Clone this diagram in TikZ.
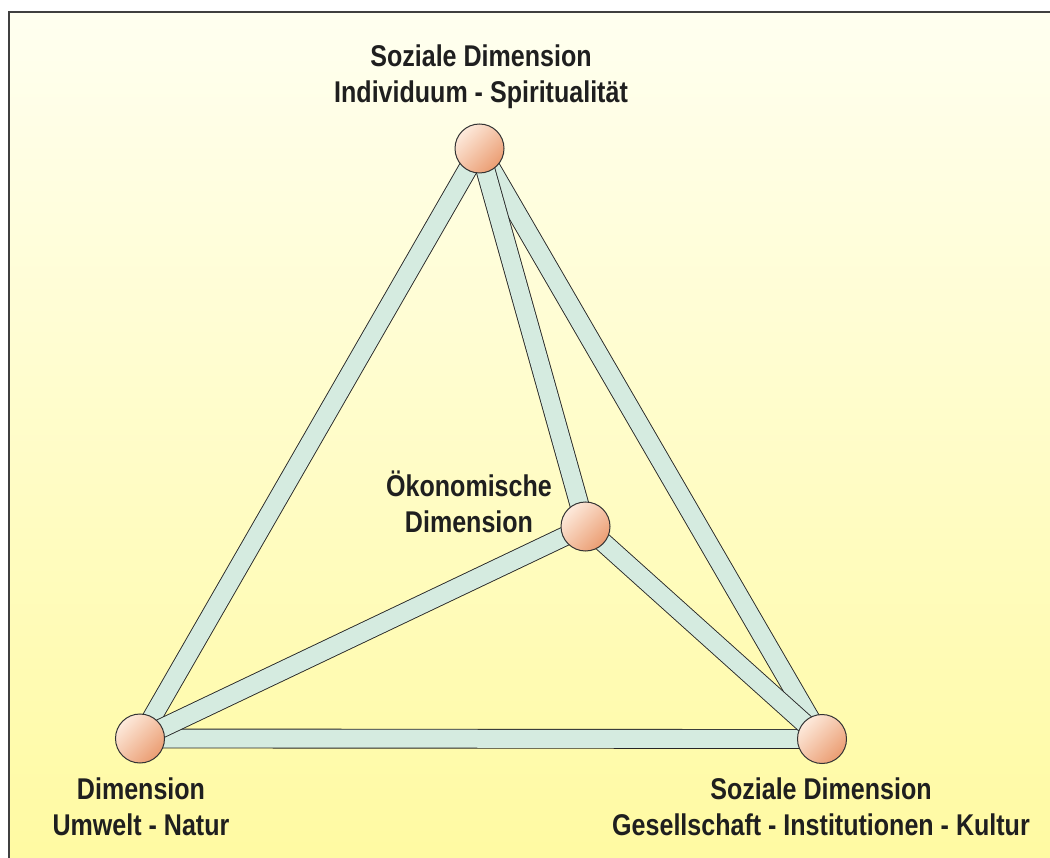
\documentclass[tikz,border=0pt]{standalone}
\usepackage{fontspec}
\setmainfont{Liberation Sans}[FakeStretch=0.835]
\definecolor{barc}{HTML}{D5EBE0}
\definecolor{ballL}{HTML}{FDEADC}
\definecolor{ballD}{HTML}{EB9D72}
\definecolor{bgtop}{HTML}{FFFFF0}
\definecolor{bgbot}{HTML}{FFFAA2}
\begin{document}
\begin{tikzpicture}[x=1pt,y=-1pt,
  ball/.style={circle, draw=black!80, line width=1pt, minimum size=49pt, inner sep=0pt,
    top color=ballL, bottom color=ballD, shading angle=45},
  bar/.style={draw=black!85, line width=0.9pt, double=barc, double distance=18pt},
  lbl/.style={font=\bfseries\fontsize{30}{36}\selectfont, align=center, text=black!88, inner sep=0pt}]
\useasboundingbox (0,0) rectangle (1050,858);
\shade[top color=bgtop, bottom color=bgbot] (9,12) rectangle (1050,858);
\draw[black!75, line width=1.5pt] (9,858) -- (9,12) -- (1050,12);
% centres
\coordinate (t) at (479.5,148.5);
\coordinate (m) at (585.5,526.5);
\coordinate (l) at (140,738.5);
\coordinate (r) at (822,739);
% bars
\draw[bar] (l) -- (r);
\draw[bar] (t) -- (l);
\draw[bar] (l) -- (m);
\draw[bar] (t) -- (r);
\draw[bar] (m) -- (r);
\draw[bar] (t) -- (m);
% balls
\node[ball] (bt) at (t) {};
\node[ball] (bm) at (m) {};
\node[ball] (bl) at (l) {};
\node[ball] (br) at (r) {};
% labels
\node[lbl] (lt) at (481,77) {Soziale Dimension\\Individuum - Spiritualität};
\node[lbl] (lm) at (469,502) {Ökonomische\\Dimension};
\node[lbl] (ll) at (141,807) {Dimension\\Umwelt - Natur};
\node[lbl] (lr) at (821,807) {Soziale Dimension\\Gesellschaft - Institutionen - Kultur};
\end{tikzpicture}
\end{document}
